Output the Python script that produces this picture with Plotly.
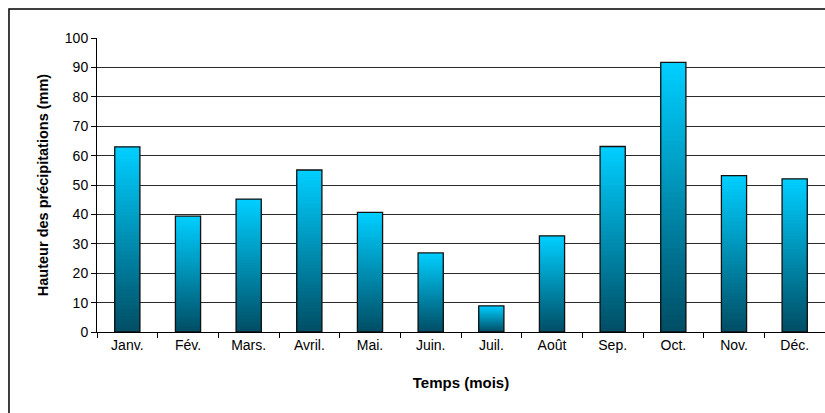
import plotly.graph_objects as go

# Monthly rainfall (mm)
months = ["Janv.", "Fév.", "Mars.", "Avril.", "Mai.", "Juin.",
          "Juil.", "Août", "Sep.", "Oct.", "Nov.", "Déc."]
rainfall = [63.0, 39.4, 45.2, 55.1, 40.7, 26.9, 8.9, 32.7, 63.1, 91.7, 53.2, 52.1]

y_ticks = list(range(0, 101, 10))

# Vertical gradient: dark teal at the base, bright cyan at the top
BOTTOM = (0, 76, 98)
TOP = (0, 206, 255)
N_STEPS = 48


def shade(f):
    r, g, b = (round(BOTTOM[i] + (TOP[i] - BOTTOM[i]) * f) for i in range(3))
    return f"rgb({r},{g},{b})"


fig = go.Figure()

# Overlaid bars of decreasing height build the gradient fill of each column
for k in range(N_STEPS):
    f = 1 - k / N_STEPS
    fig.add_trace(go.Bar(
        x=months,
        y=[v * f for v in rainfall],
        marker=dict(color=shade(f), line=dict(width=0)),
        hoverinfo="skip",
        showlegend=False,
    ))

# Outline of every column
fig.add_trace(go.Bar(
    x=months,
    y=rainfall,
    marker=dict(color="rgba(0,0,0,0)", line=dict(color="#111111", width=1.3)),
    showlegend=False,
))

# Outer chart frame
fig.add_shape(type="rect", xref="paper", yref="paper",
              x0=-0.1209, x1=1.3, y0=-0.6, y1=1.0986,
              line=dict(color="black", width=1.5), layer="below")

fig.update_layout(
    width=825, height=413,
    margin=dict(l=97, r=0, t=38, b=81),
    barmode="overlay",
    bargap=0.585,
    paper_bgcolor="white",
    plot_bgcolor="white",
    font=dict(family="Liberation Sans, Arial, sans-serif", size=14, color="black"),
    xaxis=dict(
        showline=True, linecolor="black", linewidth=1,
        ticks="outside", tickson="boundaries", ticklen=5, tickcolor="black",
        showgrid=False,
        title=dict(text="<b>Temps (mois)</b>", font=dict(size=15), standoff=25),
    ),
    yaxis=dict(
        range=[0, 100], tickvals=y_ticks,
        showline=True, linecolor="black", linewidth=1,
        ticks="outside", ticklen=5, tickcolor="black",
        showgrid=True, gridcolor="#2a2a2a", gridwidth=1,
        zeroline=False,
        title=dict(text="<b>Hauteur des précipitations (mm)</b>", font=dict(size=14.5), standoff=12),
    ),
)

fig.write_html("out.html")
